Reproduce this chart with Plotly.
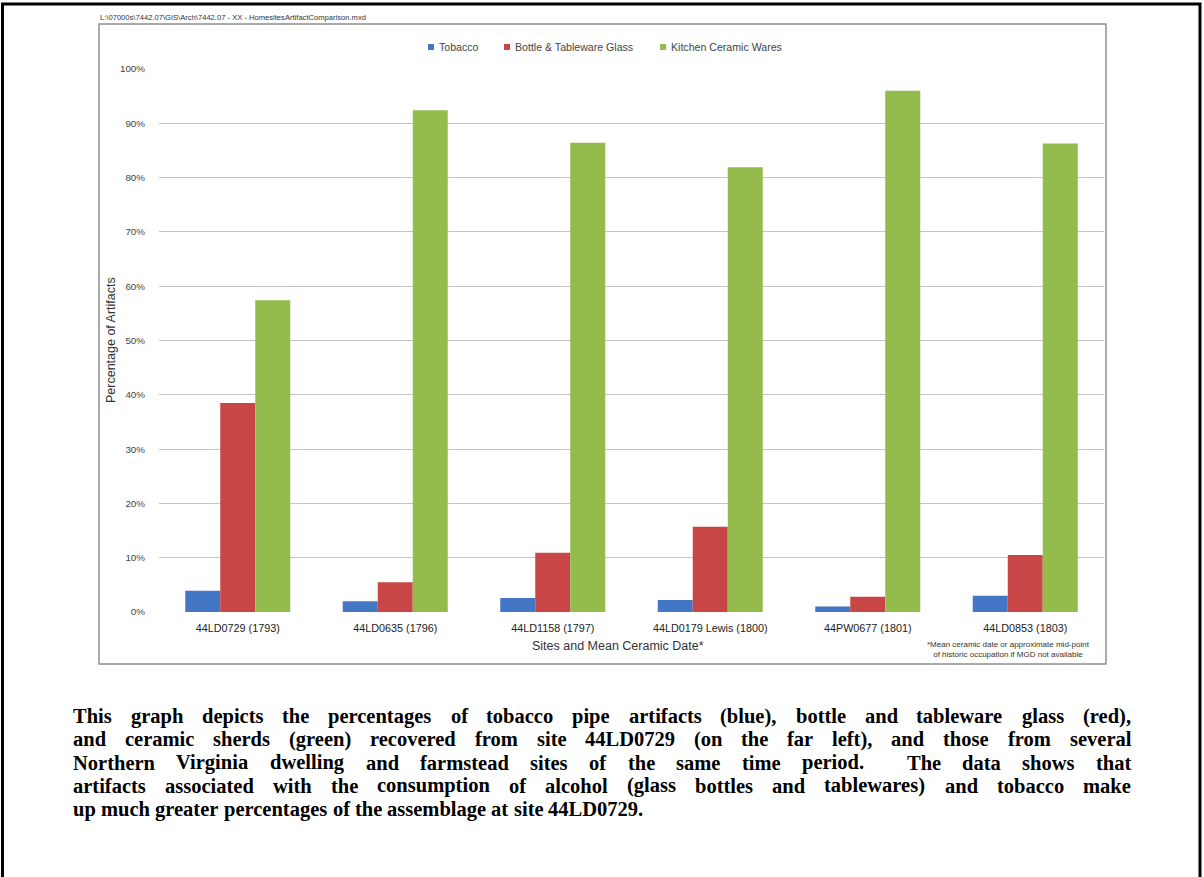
import plotly.graph_objects as go

# ---------------- data ----------------
sites = ["44LD0729 (1793)", "44LD0635 (1796)", "44LD1158 (1797)",
         "44LD0179 Lewis (1800)", "44PW0677 (1801)", "44LD0853 (1803)"]
tobacco = [3.9, 2.0, 2.6, 2.2, 1.0, 3.0]
glass = [38.5, 5.5, 10.9, 15.7, 2.8, 10.5]
ceramic = [57.4, 92.4, 86.4, 81.9, 96.0, 86.3]
series_names = ["Tobacco", "Bottle & Tableware Glass", "Kitchen Ceramic Wares"]
y_tick_vals = [0, 10, 20, 30, 40, 50, 60, 70, 80, 90, 100]
y_tick_text = [f"{v}%" for v in y_tick_vals]

path_text = "L:\\07000s\\7442.07\\GIS\\Arch\\7442.07 - XX - HomesitesArtifactComparison.mxd"
y_title = "Percentage of Artifacts"
x_title = "Sites and Mean Ceramic Date*"
footnote = "*Mean ceramic date or approximate mid-point<br>of historic occupation if MGD not available"
para_lines = [
    "This graph depicts the percentages of tobacco pipe artifacts (blue), bottle and tableware glass (red),",
    "and ceramic sherds (green) recovered from site 44LD0729 (on the far left), and those from several",
    "Northern Virginia dwelling and farmstead sites of the same time period.  The data shows that",
    "artifacts associated with the consumption of alcohol (glass bottles and tablewares) and tobacco make",
    "up much greater percentages of the assemblage at site 44LD0729.",
]

# ---------------- style / geometry ----------------
colors = ["#4476C6", "#C94646", "#93BC4C"]
W, H = 1204, 877
PL, PR, PT, PB = 159, 1104, 69, 612   # plot area in pixels


def px(x):
    return (x - PL) / (PR - PL)


def py(y):
    return (PB - y) / (PB - PT)


fig = go.Figure()
for name, vals, col in zip(series_names, [tobacco, glass, ceramic], colors):
    fig.add_trace(go.Bar(x=sites, y=vals, name=name, marker=dict(color=col, line=dict(width=0)),
                         showlegend=False))

shapes = []
annotations = []

# outer black page border
shapes.append(dict(type="rect", xref="paper", yref="paper", x0=px(2.5), x1=px(1200), y0=py(900), y1=py(4),
                   line=dict(color="black", width=3), fillcolor="rgba(0,0,0,0)", layer="above"))
# chart box
shapes.append(dict(type="rect", xref="paper", yref="paper", x0=px(99), x1=px(1106), y0=py(664), y1=py(24),
                   line=dict(color="#8f8f8f", width=1.5), fillcolor="rgba(0,0,0,0)", layer="below"))

SANS = "Liberation Sans, Arial, sans-serif"
# path text
annotations.append(dict(text=path_text, x=px(100), y=py(17), xref="paper", yref="paper", xanchor="left",
                        yanchor="middle", showarrow=False, borderpad=0, borderwidth=0,
                        font=dict(family=SANS, size=7.6, color="#333333")))
# custom legend
leg_marks = [431, 507, 663]
leg_text = [439, 515, 671]
for name, col, mx, tx in zip(series_names, colors, leg_marks, leg_text):
    shapes.append(dict(type="rect", xref="paper", yref="paper", x0=px(mx - 3), x1=px(mx + 3),
                       y0=py(50), y1=py(44), line=dict(width=0), fillcolor=col))
    annotations.append(dict(text=name, x=px(tx), y=py(47), xref="paper", yref="paper", xanchor="left",
                            yanchor="middle", showarrow=False, borderpad=0, borderwidth=0,
                            font=dict(family=SANS, size=10.6, color="#444444")))
# axis titles
annotations.append(dict(text=y_title, x=px(111), y=py(340), xref="paper", yref="paper", textangle=-90,
                        xanchor="center", yanchor="middle", showarrow=False,
                        font=dict(family=SANS, size=12.5, color="#333333")))
annotations.append(dict(text=x_title, x=px(618), y=py(646), xref="paper", yref="paper",
                        xanchor="center", yanchor="middle", showarrow=False,
                        font=dict(family=SANS, size=12.5, color="#333333")))
annotations.append(dict(text=footnote, x=px(1008), y=py(649), xref="paper", yref="paper",
                        xanchor="center", yanchor="middle", showarrow=False, align="center",
                        font=dict(family=SANS, size=8, color="#333333")))

# ---------------- justified paragraph (Times-Bold metrics) ----------------
TB = {' ': 250, '(': 333, ')': 333, ',': 250, '.': 250, '0': 500, '1': 500, '2': 500, '3': 500, '4': 500,
      '5': 500, '6': 500, '7': 500, '8': 500, '9': 500,
      'A': 722, 'B': 667, 'C': 722, 'D': 722, 'E': 667, 'F': 611, 'G': 778, 'H': 778, 'I': 389, 'J': 500,
      'K': 778, 'L': 667, 'M': 944, 'N': 722, 'O': 778, 'P': 611, 'Q': 778, 'R': 722, 'S': 556, 'T': 667,
      'U': 722, 'V': 722, 'W': 1000, 'X': 722, 'Y': 722, 'Z': 667,
      'a': 500, 'b': 556, 'c': 444, 'd': 556, 'e': 444, 'f': 333, 'g': 500, 'h': 556, 'i': 278, 'j': 333,
      'k': 556, 'l': 278, 'm': 833, 'n': 556, 'o': 500, 'p': 556, 'q': 556, 'r': 444, 's': 389, 't': 333,
      'u': 556, 'v': 500, 'w': 722, 'x': 500, 'y': 500, 'z': 444}
FS = 20.5
TXT_L, TXT_R = 73, 1131
LINE0, STEP = 716, 23.3


def wtext(s):
    return sum(TB.get(c, 500) for c in s) * FS / 1000.0


for i, line in enumerate(para_lines):
    yy = LINE0 + i * STEP
    tokens = line.split(" ")
    words, gaps = [], []
    pending = 0
    for t in tokens:
        if t == "":
            pending += 1
            continue
        words.append(t)
        gaps.append(pending)
        pending = 1
    gaps[0] = 0
    nsp = sum(gaps)
    total_w = sum(wtext(w) for w in words)
    if i < len(para_lines) - 1 and nsp > 0:
        sp = (TXT_R - TXT_L - total_w) / nsp
    else:
        sp = wtext(" ")
    x = TXT_L
    for w, g in zip(words, gaps):
        x += g * sp
        annotations.append(dict(text=w, x=px(x), y=py(yy), xref="paper", yref="paper", xanchor="left",
                                yanchor="middle", showarrow=False, borderpad=0, borderwidth=0,
                                font=dict(family="Liberation Serif, Times New Roman, serif", size=FS,
                                          color="black", weight="bold")))
        x += wtext(w)

fig.update_layout(
    width=W, height=H,
    margin=dict(l=PL, r=W - PR, t=PT, b=H - PB, pad=0),
    paper_bgcolor="white", plot_bgcolor="white",
    barmode="group", bargap=1 / 3, bargroupgap=0,
    showlegend=False,
    shapes=shapes, annotations=annotations,
    xaxis=dict(showgrid=False, showline=False, ticks="", zeroline=False, ticklabelstandoff=8,
               tickfont=dict(family=SANS, size=10.8, color="#222222")),
    yaxis=dict(range=[0, 100], tickvals=y_tick_vals, ticktext=y_tick_text, showgrid=True,
               gridcolor="#c4c4c4", gridwidth=1, zeroline=False, showline=False,
               ticks="", ticklabelstandoff=13,
               tickfont=dict(family=SANS, size=9.8, color="#444444")),
)

fig.write_html("out.html", config={"displayModeBar": False},
               post_script="document.body.style.margin='0';document.body.style.overflow='hidden';")
